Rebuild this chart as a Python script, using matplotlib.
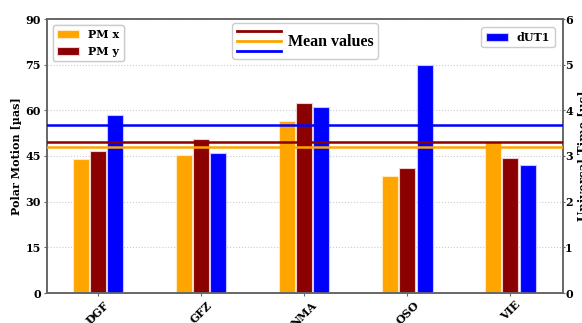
import matplotlib
matplotlib.use('Agg')
import matplotlib.pyplot as plt
import numpy as np
from matplotlib.lines import Line2D
from matplotlib.legend_handler import HandlerBase

plt.rcParams['font.family'] = 'DejaVu Serif'
plt.rcParams['font.weight'] = 'bold'

centers = ['DGF', 'GFZ', 'NMA', 'OSO', 'VIE']
pmX = [44.1, 45.4, 56.5, 38.5, 49.7]
pmY = [46.8, 50.6, 62.4, 41.2, 44.3]
dut1 = [3.89, 3.07, 4.08, 5.0, 2.80]
meanPmX = 47.9
meanPmY = 49.7
meanDut1 = 3.67

cOrange = '#FFA500'
cRed = '#8B0000'
cBlue = '#0000FF'


class ThreeLines(HandlerBase):
    # one legend entry drawn as three stacked lines
    def create_artists(self, legend, orig_handle, xdescent, ydescent,
                       width, height, fontsize, trans):
        arts = []
        yc = -ydescent + height/2.
        for dy, c in zip([0.62, 0.0, -0.62], [cRed, cOrange, cBlue]):
            y = yc + dy*fontsize
            l = Line2D([-xdescent, -xdescent+width], [y, y], color=c, lw=2.0)
            l.set_transform(trans)
            arts.append(l)
        return arts


fig = plt.figure(figsize=(5.82, 3.23), dpi=100)
ax1 = fig.add_axes([47/582., 30/323., 516/582., 274/323.])
ax2 = ax1.twinx()

x = np.arange(len(centers))
w = 0.155
off = 0.167
ax1.bar(x-off, pmX, w, color=cOrange, edgecolor='#ffe9c0', linewidth=0.8, label='PM x', zorder=2)
ax1.bar(x, pmY, w, color=cRed, edgecolor='#f0d0d0', linewidth=0.8, label='PM y', zorder=2)
ax2.bar(x+off, dut1, w, color=cBlue, edgecolor='#c8c8ff', linewidth=0.8, label='dUT1', zorder=2)

ax1.set_ylim(0, 90)
ax2.set_ylim(0, 6)
ax1.set_xlim(-0.495, 4.51)
ax1.set_yticks(np.arange(0, 91, 15))
ax2.set_yticks(np.arange(0, 7, 1))
ax1.set_xticks(x)
ax1.set_xticklabels(centers, rotation=45, fontsize=8, fontweight='bold')
ax1.tick_params(axis='both', labelsize=8, length=2.5, pad=2, color='#666666')
ax2.tick_params(axis='y', labelsize=8, length=1.5, pad=0, color='#666666')
ax1.yaxis.grid(True, linestyle=':', color='#cccccc', linewidth=0.8, zorder=0)
ax1.set_axisbelow(True)

# mean lines, all on top of the bars (ratio of the two scales is 15)
scale = 90./6
ax2.axhline(meanPmY/scale, color=cRed, lw=1.8, zorder=3)
ax2.axhline(meanPmX/scale, color=cOrange, lw=1.8, zorder=3)
ax2.axhline(meanDut1, color=cBlue, lw=1.8, zorder=3)

for ax in (ax1, ax2):
    for s in ax.spines.values():
        s.set_color('#666666')
        s.set_linewidth(1.2)

ax1.set_ylabel('Polar Motion [µas]', fontsize=8, fontweight='bold', labelpad=2)
ax2.set_ylabel('Universal Time [µs]', fontsize=8.5, fontweight='bold')
ax2.yaxis.set_label_coords(1.029, 0.5)

leg1 = ax1.legend(loc='upper left', fontsize=8, framealpha=1)
ax1.add_artist(leg1)
leg2 = ax2.legend(loc='upper right', fontsize=8, framealpha=1, borderaxespad=0.75)
ax2.add_artist(leg2)
leg3 = ax2.legend([object()], ['Mean values'], handler_map={object: ThreeLines()},
                  loc='upper center', handlelength=2.8, handleheight=2.15,
                  borderpad=0.3, handletextpad=0.4, borderaxespad=0.25, framealpha=1,
                  prop={'family': 'Liberation Serif', 'weight': 'bold', 'size': 11.5})

plt.savefig('out.png', dpi=100)
